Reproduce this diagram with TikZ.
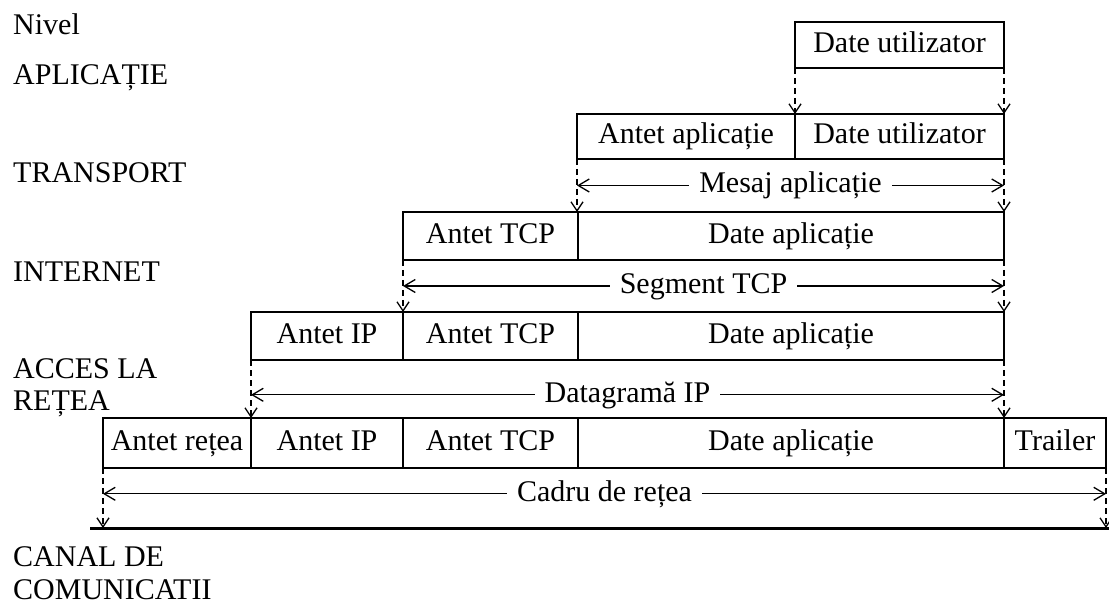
\documentclass[tikz,border=0pt]{standalone}
\usepackage{fontspec}
\setmainfont{Liberation Serif}
\usetikzlibrary{arrows.meta,calc}

\tikzset{
  cell/.style={draw, line width=1.4pt, inner sep=0pt, outer sep=0pt,
    text height=20pt, text depth=5pt, anchor=north west},
  guide/.style={line width=1.2pt, dash pattern=on 6pt off 4pt,
    -{Straight Barb[length=9pt,width=12pt,line width=1.3pt]}},
  span/.style={line width=1.2pt,
    {Straight Barb[length=11pt,width=13pt,line width=1.3pt]}-{Straight Barb[length=11pt,width=13pt,line width=1.3pt]}},
  spanlabel/.style={fill=white, inner xsep=10pt, inner ysep=0pt,
    text height=20pt, text depth=5pt},
  level/.style={anchor=base west, inner sep=0pt},
}

\begin{document}
\begin{tikzpicture}[x=1pt, y=-1pt, font=\fontsize{30}{34}\selectfont]
\useasboundingbox (0,0) rectangle (1109,604);

% layer names on the left
\node[level] (lnivel) at (13,35)  {Nivel};
\node[level] (lapl)   at (13,85)  {APLICAȚIE};
\node[level] (ltr)    at (13,183) {TRANSPORT};
\node[level] (lint)   at (13,282) {INTERNET};
\node[level] (lacc1)  at (13,378) {ACCES LA};
\node[level] (lacc2)  at (13,410) {REȚEA};
\node[level] (lcan1)  at (13,566) {CANAL DE};
\node[level] (lcan2)  at (13,599) {COMUNICATII};

% application layer
\node[cell, minimum width=209pt, minimum height=46pt] (r1a) at (795,22) {Date utilizator};

% transport layer
\node[cell, minimum width=218pt, minimum height=45pt] (r2a) at (577,114) {Antet aplicație};
\node[cell, minimum width=209pt, minimum height=45pt] (r2b) at (795,114) {Date utilizator};

% internet layer
\node[cell, minimum width=175pt, minimum height=48pt] (r3a) at (403,212) {Antet TCP};
\node[cell, minimum width=426pt, minimum height=48pt] (r3b) at (578,212) {Date aplicație};

% network access layer
\node[cell, minimum width=152pt, minimum height=48pt] (r4a) at (251,312) {Antet IP};
\node[cell, minimum width=175pt, minimum height=48pt] (r4b) at (403,312) {Antet TCP};
\node[cell, minimum width=426pt, minimum height=48pt] (r4c) at (578,312) {Date aplicație};

% frame on the channel
\node[cell, minimum width=148pt, minimum height=50pt] (r5a) at (103,418) {Antet rețea};
\node[cell, minimum width=152pt, minimum height=50pt] (r5b) at (251,418) {Antet IP};
\node[cell, minimum width=175pt, minimum height=50pt] (r5c) at (403,418) {Antet TCP};
\node[cell, minimum width=426pt, minimum height=50pt] (r5d) at (578,418) {Date aplicație};
\node[cell, minimum width=102pt, minimum height=50pt] (r5e) at (1004,418) {Trailer};

% communication channel
\coordinate (gl) at (90,528);
\coordinate (gr) at (1109,528);
\draw[line width=3pt] (gl) -- (gr);

% encapsulation guides
\draw[guide] (r1a.south west) -- (r2b.north west);
\draw[guide] (r1a.south east) -- (r2b.north east);

\draw[guide] (r2a.south west) -- (r3b.north west -| r2a.south west);
\draw[guide] (r2b.south east) -- (r3b.north east);

\draw[guide] (r3a.south west) -- (r4b.north west);
\draw[guide] (r3b.south east) -- (r4c.north east);

\draw[guide] (r4a.south west) -- (r5b.north west);
\draw[guide] (r4c.south east) -- (r5e.north west);

\draw[guide] (r5a.south west) -- (r5a.south west |- gl);
\draw[guide] (r5e.south east) -- (r5e.south east |- gl);

% unit spans
\draw[span] ($(r2a.south west)!0.5!(r3b.north west -| r2a.south west)$)
  -- node[spanlabel] (smesaj) {Mesaj aplicație}
  ($(r2b.south east)!0.5!(r3b.north east)$);
\draw[span] ($(r3a.south west)!0.5!(r4b.north west)$)
  -- node[spanlabel] (sseg) {Segment TCP}
  ($(r3b.south east)!0.5!(r4c.north east)$);
\draw[span] ($(r4a.south west)!0.6!(r5b.north west)$)
  -- node[spanlabel] (sdgram) {Datagramă IP}
  ($(r4c.south east)!0.6!(r5e.north west)$);
\draw[span] ($(r5a.south west)!0.43!(r5a.south west |- gl)$)
  -- node[spanlabel] (scadru) {Cadru de rețea}
  ($(r5e.south east)!0.43!(r5e.south east |- gl)$);
\end{tikzpicture}
\end{document}
